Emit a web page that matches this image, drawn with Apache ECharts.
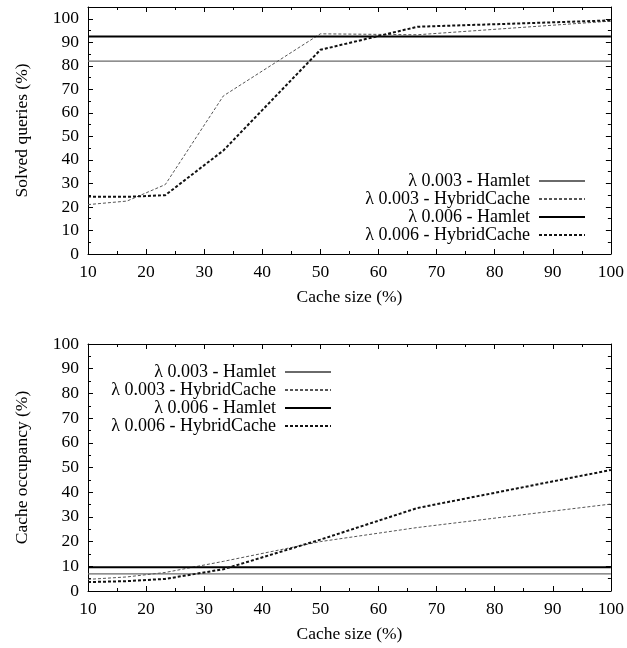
<!DOCTYPE html>
<html>
<head>
<meta charset="utf-8">
<script src="https://cdn.jsdelivr.net/npm/echarts@6/dist/echarts.min.js"></script>
<style>html,body{margin:0;padding:0;background:#fff;}</style>
</head>
<body>
<div id="chart" style="width:627px;height:648px;"></div>
<script>
// x positions of the measured points (cache size, %)
var cacheSize = [10, 16.7, 23.3, 33.3, 50, 66.7, 100];
var seriesNames = ['λ 0.003 - Hamlet', 'λ 0.003 - HybridCache', 'λ 0.006 - Hamlet', 'λ 0.006 - HybridCache'];

// top panel: solved queries (%)
var solvedHamlet003 = 82;
var solvedHybrid003 = [21.0, 22.5, 29.5, 67.2, 93.6, 93.2, 99.0];
var solvedHamlet006 = 92.5;
var solvedHybrid006 = [24.4, 24.3, 25.0, 44.0, 86.8, 96.6, 99.3];

// bottom panel: cache occupancy (%)
var occHamlet003 = 6.9;
var occHybrid003 = [4.7, 5.7, 7.5, 12.0, 20.0, 25.7, 35.2];
var occHamlet006 = 9.6;
var occHybrid006 = [3.6, 4.0, 4.9, 8.8, 20.8, 33.6, 49.0];

var font = 'Liberation Serif';
var lineStyles = [
  { type: 'solid', width: 1.3, color: '#6a6a6a' },
  { type: [3, 2], width: 1, color: '#555' },
  { type: 'solid', width: 2, color: '#000' },
  { type: [3, 2], width: 2, color: '#111' }
];

function pairs(vals) {
  return cacheSize.map(function (x, i) { return [x, vals[i]]; });
}
function flat(v) {
  return [[10, v], [100, v]];
}

function xAxisCfg(grid, top) {
  return {
    type: 'value', gridIndex: grid, min: 10, max: 100, interval: 10,
    position: top ? 'top' : 'bottom',
    name: top ? '' : 'Cache size (%)', nameLocation: 'middle', nameGap: 34,
    nameTextStyle: { fontFamily: font, fontSize: 17.5, color: '#000' },
    axisLine: { show: true, onZero: false, lineStyle: { color: '#000', width: 1 } },
    axisTick: { show: true, inside: true, length: 5, lineStyle: { color: '#000' } },
    minorTick: { show: true, splitNumber: 2, length: 3, lineStyle: { color: '#000' } },
    axisLabel: { show: !top, fontFamily: font, fontSize: 17.5, color: '#000', margin: 9 },
    splitLine: { show: false }
  };
}
function yAxisCfg(grid, right, max, name) {
  return {
    type: 'value', gridIndex: grid, min: 0, max: max, interval: 10,
    position: right ? 'right' : 'left',
    name: right ? '' : name, nameLocation: 'middle', nameGap: 57,
    nameTextStyle: { fontFamily: font, fontSize: 17.5, color: '#000' },
    axisLine: { show: true, onZero: false, lineStyle: { color: '#000', width: 1 } },
    axisTick: { show: true, inside: true, length: 5, lineStyle: { color: '#000' } },
    minorTick: { show: true, splitNumber: 2, length: 3, lineStyle: { color: '#000' } },
    axisLabel: { show: !right, fontFamily: font, fontSize: 17.5, color: '#000', margin: 9,
      formatter: function (v) { return v % 10 === 0 ? v : ''; } },
    splitLine: { show: false }
  };
}

function makeSeries(grid, data) {
  return data.map(function (d, i) {
    return {
      name: seriesNames[i], type: 'line',
      xAxisIndex: grid * 2, yAxisIndex: grid * 2,
      data: d, symbol: 'none', silent: true,
      lineStyle: lineStyles[i], itemStyle: { color: lineStyles[i].color }
    };
  });
}

function legendCfg(right, top) {
  return {
    orient: 'vertical', align: 'right', right: right, top: top,
    padding: 0,
    itemWidth: 46, itemHeight: 12, itemGap: 0,
    data: seriesNames,
    selectedMode: false,
    itemStyle: { opacity: 0 },
    textStyle: { fontFamily: font, fontSize: 18, color: '#000', padding: [0, 4, 0, 0] }
  };
}

var chart = echarts.init(document.getElementById('chart'));
chart.setOption({
  animation: false,
  backgroundColor: '#fff',
  grid: [
    { left: 88, right: 16, top: 7, height: 247 },
    { left: 88, right: 16, top: 344, height: 247 }
  ],
  xAxis: [xAxisCfg(0, false), xAxisCfg(0, true), xAxisCfg(1, false), xAxisCfg(1, true)],
  yAxis: [
    yAxisCfg(0, false, 105, 'Solved queries (%)'), yAxisCfg(0, true, 105, ''),
    yAxisCfg(1, false, 100, 'Cache occupancy (%)'), yAxisCfg(1, true, 100, '')
  ],
  legend: [legendCfg(41, 172), legendCfg(295, 363)],
  series: makeSeries(0, [flat(solvedHamlet003), pairs(solvedHybrid003), flat(solvedHamlet006), pairs(solvedHybrid006)])
    .concat(makeSeries(1, [flat(occHamlet003), pairs(occHybrid003), flat(occHamlet006), pairs(occHybrid006)]))
});
</script>
</body>
</html>
